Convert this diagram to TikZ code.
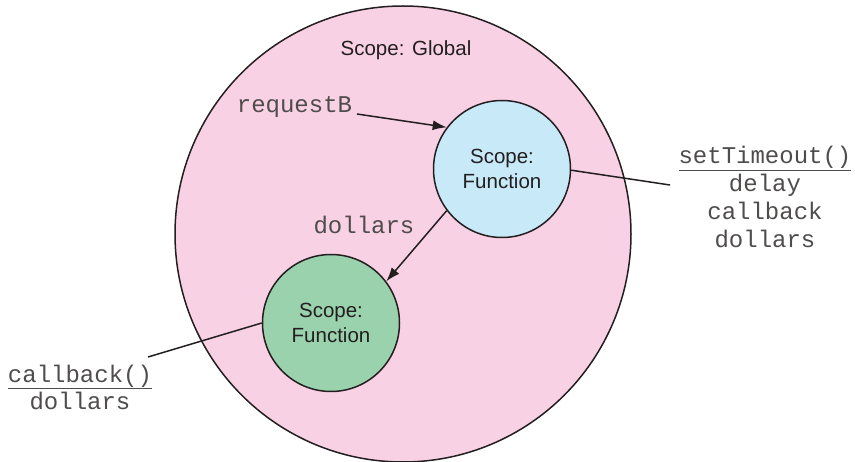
\documentclass[tikz,border=0pt]{standalone}
\usepackage{fontspec}
\setmainfont{Liberation Sans}
\setmonofont{Liberation Mono}
\usetikzlibrary{arrows.meta}
\definecolor{pinkfill}{RGB}{249,209,228}
\definecolor{bluefill}{RGB}{199,233,248}
\definecolor{greenfill}{RGB}{154,210,173}
\definecolor{ink}{RGB}{35,31,32}
\tikzset{
  scopecircle/.style={circle, draw=ink, line width=1.5pt, inner sep=0pt, align=center,
     font=\fontsize{20.5}{25}\selectfont, text=ink},
  codetext/.style={font=\fontsize{24}{28}\ttfamily, text=ink!80, inner sep=0pt, align=center},
  conn/.style={draw=ink, line width=1.5pt},
  arr/.style={conn, -{Latex[length=14pt,width=10pt]}}
}
\begin{document}
\begin{tikzpicture}[x=1pt,y=-1pt]
\useasboundingbox (0,0) rectangle (855,462);
\node[scopecircle, fill=pinkfill, minimum size=456pt] (global) at (403,234) {};
\node[font=\fontsize{20.5}{25}\selectfont, text=ink, anchor=base, inner sep=0pt] (globallabel) at (406,56) {Scope: Global};
\node[scopecircle, fill=bluefill, minimum size=137pt] (fnA) at (502,169) {Scope:\\Function};
\node[scopecircle, fill=greenfill, minimum size=137pt] (fnB) at (331,323) {Scope:\\Function};
\node[codetext, anchor=base] (req) at (294.5,113) {requestB};
\node[codetext, anchor=base] (dol) at (364,234) {dollars};
\node[codetext, anchor=base] (st) at (765,248) {\underline{setTimeout()}\\delay\\callback\\dollars};
\node[codetext, anchor=base] (cb) at (80,410) {\underline{callback()}\\dollars};
\coordinate (reqend) at (357,114);
\coordinate (stend) at (670,185);
\coordinate (cbend) at (148,357);
\draw[arr] (reqend) -- (fnA.143);
\draw[arr] (fnA.217) -- (fnB.37);
\draw[conn] (fnA.-1) -- (stend);
\draw[conn] (fnB.180) -- (cbend);
\end{tikzpicture}
\end{document}
